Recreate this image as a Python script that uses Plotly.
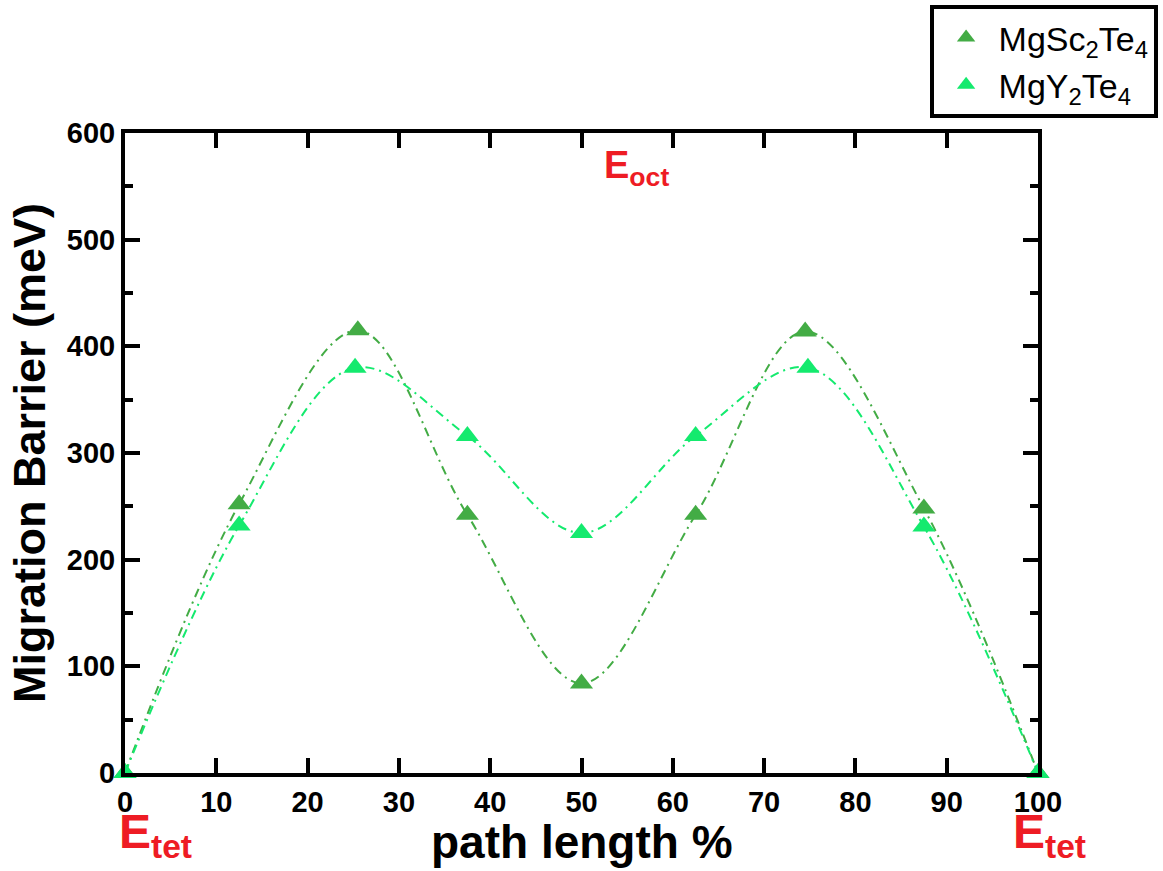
import plotly.graph_objects as go

path_sc = [0, 12.5, 25.5, 37.5, 50, 62.5, 74.5, 87.5, 100]
barrier_sc = [0, 252, 415, 242, 84, 242, 414, 248, 0]

path_y = [0, 12.5, 25.2, 37.5, 50, 62.5, 74.8, 87.5, 100]
barrier_y = [0, 232, 380, 316, 225, 316, 380, 231, 0]

names = ["MgSc<sub>2</sub>Te<sub>4</sub>", "MgY<sub>2</sub>Te<sub>4</sub>"]
colors = ["#43ac45", "#14ea6e"]

x_ticks = list(range(0, 101, 10))
y_ticks = list(range(0, 601, 100))

fig = go.Figure()
for xs, ys, nm, c in [(path_sc, barrier_sc, names[0], colors[0]), (path_y, barrier_y, names[1], colors[1])]:
    fig.add_trace(go.Scatter(x=xs, y=ys, mode="lines", showlegend=False,
                             line=dict(color=c, width=2, dash="9px,5px,2px,5px", shape="spline", smoothing=1.0),
                             hoverinfo="skip"))
for xs, ys, nm, c in [(path_sc, barrier_sc, names[0], colors[0]), (path_y, barrier_y, names[1], colors[1])]:
    fig.add_trace(go.Scatter(x=xs, y=ys, mode="markers", name=nm,
                             marker=dict(symbol="triangle-up", size=20, color=c),
                             cliponaxis=False))

font_fam = "Liberation Sans, Arial, sans-serif"
axis_common = dict(showline=True, linewidth=4, linecolor="black", mirror="allticks",
                   ticks="inside", ticklen=15, tickwidth=4, tickcolor="black",
                   showgrid=False, zeroline=False, automargin=False,
                   tickfont=dict(family=font_fam, size=29, color="black", weight="bold"))

fig.update_xaxes(range=[0, 100], tickvals=x_ticks, **axis_common)
fig.update_yaxes(range=[0, 600], tickvals=y_ticks,
                 minor=dict(ticks="inside", ticklen=8, tickwidth=4, dtick=50, tick0=0, tickcolor="black"),
                 title=dict(text="Migration Barrier (meV)", font=dict(family=font_fam, size=45, color="black", weight="bold"), standoff=8),
                 **axis_common)

fig.add_annotation(x=0.5, y=-0.064, xref="paper", yref="paper", xanchor="center", yanchor="top", showarrow=False,
                   text="path length %", font=dict(family=font_fam, size=46, color="black", weight="bold"))

red = "#ee1c24"
fig.add_annotation(x=56, y=592, xref="x", yref="y", xanchor="center", yanchor="top", showarrow=False,
                   text="E<sub>oct</sub>", font=dict(family=font_fam, size=38, color=red, weight="bold"))
fig.add_annotation(x=0.033, y=-0.047, xref="paper", yref="paper", xanchor="center", yanchor="top", showarrow=False,
                   text="E<sub>tet</sub>", font=dict(family=font_fam, size=48, color=red, weight="bold"))
fig.add_annotation(x=1.013, y=-0.047, xref="paper", yref="paper", xanchor="center", yanchor="top", showarrow=False,
                   text="E<sub>tet</sub>", font=dict(family=font_fam, size=48, color=red, weight="bold"))

fig.update_layout(
    width=1163, height=871,
    margin=dict(l=125, r=125, t=133, b=98, autoexpand=False),
    paper_bgcolor="white", plot_bgcolor="white",
    legend=dict(x=1.131, y=1.2, xanchor="right", yanchor="top",
                bordercolor="black", borderwidth=4, bgcolor="white",
                font=dict(family=font_fam, size=34, color="black"),
                itemsizing="trace", itemwidth=55, tracegroupgap=0),
    showlegend=True,
)

fig.write_html("out.html")
